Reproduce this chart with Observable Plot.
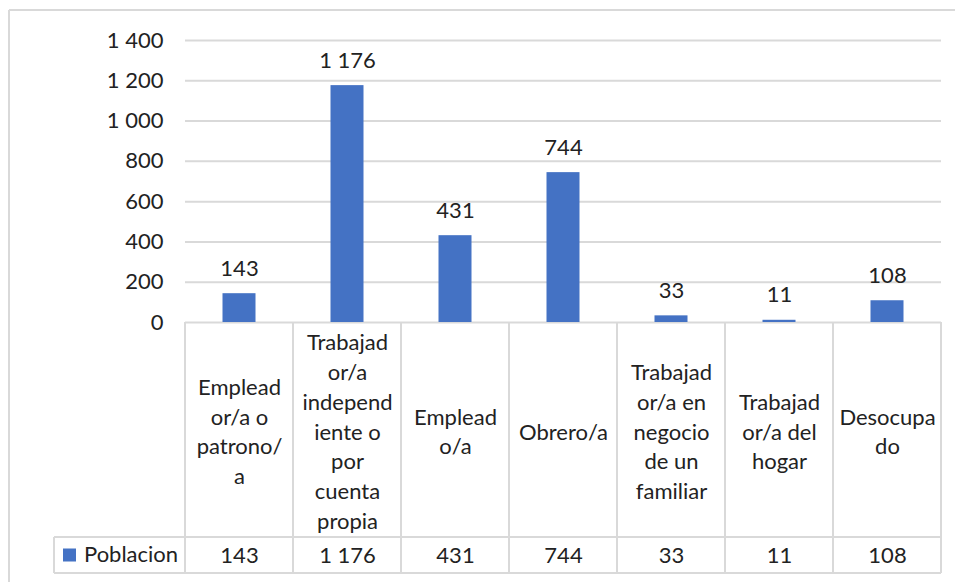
<!DOCTYPE html>
<html>
<head>
<meta charset="utf-8">
<script src="https://cdn.jsdelivr.net/npm/d3@7"></script>
<script src="https://cdn.jsdelivr.net/npm/@observablehq/plot@0.6"></script>
<style>
  html, body { margin: 0; padding: 0; background: #fff; }
  #chart { width: 955px; height: 582px; overflow: hidden; }
</style>
</head>
<body>
<div id="chart"></div>
<script>
const categoryNames = [
  "Empleador/a o patrono/a",
  "Trabajador/a independiente o por cuenta propia",
  "Empleado/a",
  "Obrero/a",
  "Trabajador/a en negocio de un familiar",
  "Trabajador/a del hogar",
  "Desocupado"
];
const categoryLabels = [
  "Emplead\nor/a o\npatrono/\na",
  "Trabajad\nor/a\nindepend\niente o\npor\ncuenta\npropia",
  "Emplead\no/a",
  "Obrero/a",
  "Trabajad\nor/a en\nnegocio\nde un\nfamiliar",
  "Trabajad\nor/a del\nhogar",
  "Desocupa\ndo"
];
const values = [143, 1176, 431, 744, 33, 11, 108];
const seriesName = "Poblacion";
const yTicks = [0, 200, 400, 600, 800, 1000, 1200, 1400];

const fmt = d3.formatLocale({decimal: ",", thousands: " ", grouping: [3], currency: ["", ""]}).format(",d");
const data = categoryNames.map((c, i) => ({cat: c, label: categoryLabels[i], value: values[i]}));

const FS = 22;
const TXT = "#222";
const LINE = "#d9d9d9";
const BLUE = "#4472C4";

const plot = Plot.plot({
  width: 955,
  height: 582,
  marginTop: 40,
  marginBottom: 260,
  marginLeft: 185,
  marginRight: 14,
  style: {fontFamily: "Lato, sans-serif", fontSize: FS + "px", color: TXT, background: "#fff", overflow: "visible"},
  x: {type: "band", domain: categoryNames, padding: 0, axis: null},
  y: {domain: [0, 1400], axis: null, label: null},
  marks: [
    Plot.gridY(yTicks, {stroke: LINE, strokeOpacity: 1, strokeWidth: 2}),
    Plot.axisY(yTicks, {tickSize: 0, tickPadding: 22, tickFormat: fmt, fontSize: FS, fill: TXT, label: null}),
    Plot.barY(data, {x: "cat", y: "value", fill: BLUE, insetLeft: 37.5, insetRight: 37.5}),
    Plot.text(data, {x: "cat", y: "value", text: d => fmt(d.value), dy: -25, fontSize: FS, fill: TXT}),
    Plot.text(data, {x: "cat", text: "label", frameAnchor: "bottom", lineAnchor: "middle", dy: 107.5, lineHeight: 1.35, fontSize: FS, fill: TXT}),
    Plot.text(data, {x: "cat", text: d => fmt(d.value), frameAnchor: "bottom", lineAnchor: "middle", dy: 233, fontSize: FS, fill: TXT})
  ]
});

document.getElementById("chart").appendChild(plot);

// Data table lines and legend cell, placed with the plot's own scales
const sx = plot.scale("x");
const sy = plot.scale("y");
const x1 = sx.range[1];
const yTop = sy.apply(0);
const yMid = yTop + 215;
const yBot = yTop + 251;
const legendX = 54;
const svg = d3.select(plot);
const g = svg.append("g").attr("stroke", LINE).attr("stroke-width", 2).attr("fill", "none");
categoryNames.forEach(c => {
  const xs = sx.apply(c);
  g.append("line").attr("x1", xs).attr("x2", xs).attr("y1", yTop).attr("y2", yBot);
});
g.append("line").attr("x1", x1).attr("x2", x1).attr("y1", yTop).attr("y2", yBot);
g.append("line").attr("x1", legendX).attr("x2", legendX).attr("y1", yMid).attr("y2", yBot);
g.append("line").attr("x1", legendX).attr("x2", x1).attr("y1", yMid).attr("y2", yMid);
g.append("line").attr("x1", legendX).attr("x2", x1).attr("y1", yBot).attr("y2", yBot);
// outer chart frame
g.append("line").attr("x1", 9).attr("x2", 955).attr("y1", 10).attr("y2", 10);
g.append("line").attr("x1", 9).attr("x2", 9).attr("y1", 10).attr("y2", 582);

const lg = svg.append("g");
lg.append("rect").attr("x", 63).attr("y", (yMid + yBot) / 2 - 6.5).attr("width", 13).attr("height", 13).attr("fill", BLUE);
lg.append("text").attr("x", 84).attr("y", (yMid + yBot) / 2).attr("dy", "0.32em")
  .attr("text-anchor", "start").attr("font-size", FS).attr("fill", TXT).text(seriesName);
</script>
</body>
</html>
